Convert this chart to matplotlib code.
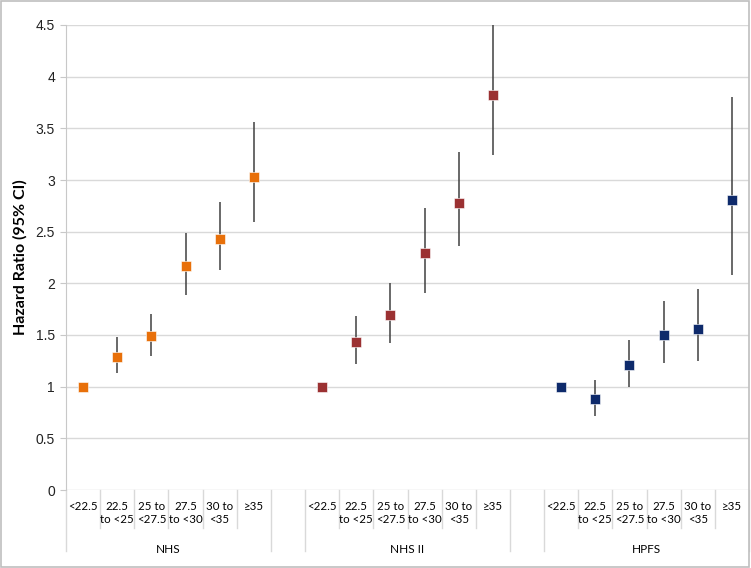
import numpy as np
import matplotlib
matplotlib.use('Agg')
import matplotlib.pyplot as plt
from matplotlib.patches import Rectangle

groups = ['NHS', 'NHS II', 'HPFS']
categories = ['<22.5', '22.5\nto <25', '25 to\n<27.5', '27.5\nto <30', '30 to\n<35', '≥35']

hr_nhs = [1.00, 1.29, 1.49, 2.17, 2.43, 3.03]
lo_nhs = [1.00, 1.13, 1.30, 1.89, 2.13, 2.59]
hi_nhs = [1.00, 1.48, 1.70, 2.49, 2.79, 3.56]

hr_nhs2 = [1.00, 1.43, 1.69, 2.29, 2.78, 3.82]
lo_nhs2 = [1.00, 1.22, 1.42, 1.91, 2.36, 3.24]
hi_nhs2 = [1.00, 1.68, 2.00, 2.73, 3.27, 4.50]

hr_hpfs = [1.00, 0.88, 1.21, 1.50, 1.56, 2.81]
lo_hpfs = [1.00, 0.72, 1.00, 1.23, 1.25, 2.08]
hi_hpfs = [1.00, 1.06, 1.45, 1.83, 1.95, 3.80]

colors = ['#E8700A', '#9B3132', '#0E2A6B']
grid_col = '#d9d9d9'
line_col = '#c8c8c8'

fig = plt.figure(figsize=(7.51, 5.68), dpi=100)
ax = fig.add_axes([66 / 751, 1 - 490 / 568, 683 / 751, 465 / 568])

series = [(hr_nhs, lo_nhs, hi_nhs), (hr_nhs2, lo_nhs2, hi_nhs2), (hr_hpfs, lo_hpfs, hi_hpfs)]
n = len(categories)
for g, (hr, lo, hi) in enumerate(series):
    x = g * (n + 1) + np.arange(n)
    hr = np.array(hr)
    yerr = [hr - np.array(lo), np.array(hi) - hr]
    ax.errorbar(x, hr, yerr=yerr, fmt='none', ecolor='#404040', elinewidth=1.1, capsize=0, zorder=2)
    ax.plot(x, hr, 's', color=colors[g], markersize=7, markeredgecolor='white',
            markeredgewidth=0.4, zorder=3)

ax.set_xlim(-0.5, 3 * n + 2 - 0.5)
ax.set_ylim(0, 4.5)
ax.set_yticks(np.arange(0, 4.51, 0.5))
ax.set_yticklabels(['0', '0.5', '1', '1.5', '2', '2.5', '3', '3.5', '4', '4.5'],
                   family='Liberation Sans', fontsize=10, color='#222222')
ax.set_xticks([])
ax.yaxis.grid(True, color=grid_col, linewidth=1)
ax.set_axisbelow(True)
for s in ['top', 'right', 'bottom']:
    ax.spines[s].set_visible(False)
ax.spines['left'].set_color(line_col)
ax.tick_params(axis='y', length=4, color=line_col, pad=4)
ax.set_ylabel('Hazard Ratio (95% CI)', fontsize=11.5, fontweight='bold',
              family='Lato', labelpad=6)

tr = ax.get_xaxis_transform()
# category labels and separators
for g, name in enumerate(groups):
    x0 = g * (n + 1)
    for i, c in enumerate(categories):
        ax.text(x0 + i, -0.024, c, transform=tr, ha='center', va='top',
                fontsize=8.3, family='Lato', linespacing=1.15)
    ax.text(x0 + (n - 1) / 2, -0.128, name, transform=tr, ha='center', va='center',
            fontsize=8.5, family='Lato')
    for k in range(1, n):
        ax.plot([x0 + k - 0.5] * 2, [0, -0.082], transform=tr, color=grid_col,
                linewidth=1, clip_on=False)
    for b in [x0 - 0.5, x0 + n - 0.5]:
        ax.plot([b, b], [0, -0.131], transform=tr, color=grid_col,
                linewidth=1, clip_on=False)

fig.patches.append(Rectangle((0.001, 0.002), 0.997, 0.996, transform=fig.transFigure,
                             fill=False, edgecolor='#bfbfbf', linewidth=1.2))

fig.savefig('out.png', dpi=100)
